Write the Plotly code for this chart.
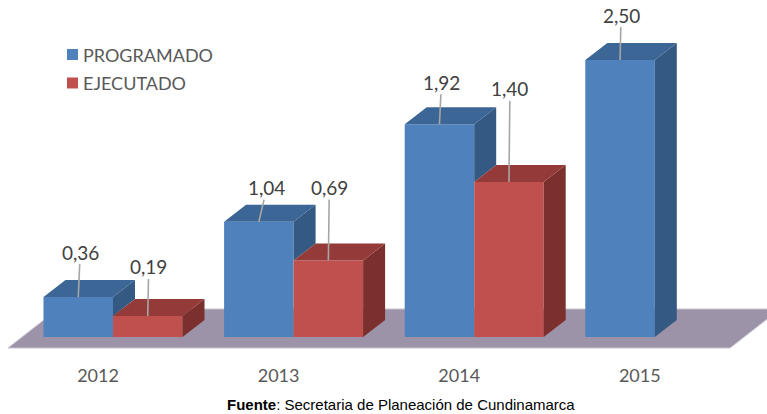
import plotly.graph_objects as go

# ---------------- data ----------------
YEARS = ["2012", "2013", "2014", "2015"]
SERIES = ["PROGRAMADO", "EJECUTADO"]
PROGRAMADO = [0.36, 1.04, 1.92, 2.50]
EJECUTADO = [0.19, 0.69, 1.40, None]

# ---------------- geometry / style ----------------
W, H = 767, 414
PX_X = 180.6      # pixels per category step
PX_Y = 110.8      # pixels per value unit
X0_PX = 113       # pixel x of category 0 (between the two bars)
Y0_PX = 337       # pixel y of value 0

XR = [-X0_PX / PX_X, (W - X0_PX) / PX_X]
YR = [-(H - Y0_PX) / PX_Y, Y0_PX / PX_Y]

BAR_W = 69.5 / PX_X
DX = 22 / PX_X     # depth offset (x)
DY = 17 / PX_Y     # depth offset (y)

COL = {
    "PROGRAMADO": dict(front="#4F81BD", top="#3C6696", side="#345A84"),
    "EJECUTADO": dict(front="#C0504D", top="#943B39", side="#7C302E"),
}
FONT_FAM = "Lato, Carlito, Calibri, sans-serif"
LABEL_FONT = dict(family=FONT_FAM, size=19, color="#404040")
AXIS_FONT = dict(family=FONT_FAM, size=18, color="#595959")
LEADER = "#A6A6A6"
# text offsets (pixels) of each value label from the top of its bar
LBL_OFF = {
    "PROGRAMADO": [(2, -45), (8, -34), (2, -42), (1, -45)],
    "EJECUTADO": [(1, -49), (1, -73), (1, -93), (0, -40)],
}


def px2paper_x(p):
    return p / W


def px2paper_y(p):
    return 1 - p / H


idx = list(range(len(YEARS)))
fig = go.Figure()

# front faces as real bars
for name, vals, off in [("PROGRAMADO", PROGRAMADO, -BAR_W), ("EJECUTADO", EJECUTADO, 0)]:
    fig.add_trace(go.Bar(
        x=idx, y=vals, width=BAR_W, offset=off, name=name,
        marker=dict(color=COL[name]["front"], line=dict(width=0)),
        hoverinfo="skip", showlegend=False,
    ))


def faces(vals, left_off, base_vals=None):
    tx, ty, sx, sy = [], [], [], []
    for i, v in enumerate(vals):
        if v is None:
            continue
        x0 = i + left_off
        x1 = x0 + BAR_W
        tx += [x0, x0 + DX, x1 + DX, x1, x0, None]
        ty += [v, v + DY, v + DY, v, v, None]
        b = 0
        if base_vals is not None and i < len(base_vals) and base_vals[i] is not None:
            b = min(base_vals[i], v)
        sx += [x1, x1, x1 + DX, x1 + DX, x1, None]
        sy += [b, v, v + DY, b + DY, b, None]
    return tx, ty, sx, sy


for name, vals, off, base in [("PROGRAMADO", PROGRAMADO, -BAR_W, EJECUTADO),
                              ("EJECUTADO", EJECUTADO, 0, None)]:
    tx, ty, sx, sy = faces(vals, off, base)
    for xs, ys, c in [(sx, sy, COL[name]["side"]), (tx, ty, COL[name]["top"])]:
        fig.add_trace(go.Scatter(
            x=xs, y=ys, mode="lines", fill="toself", fillcolor=c,
            line=dict(width=0, color=c), hoverinfo="skip", showlegend=False,
        ))

# value labels with leader lines
annotations = []
for name, vals, off in [("PROGRAMADO", PROGRAMADO, -BAR_W / 2), ("EJECUTADO", EJECUTADO, BAR_W / 2)]:
    for i, v in enumerate(vals):
        if v is None:
            continue
        ax, ay = LBL_OFF[name][i]
        annotations.append(dict(
            x=i + off, y=v, xref="x", yref="y", ax=ax, ay=ay,
            text=f"{v:.2f}".replace(".", ","), showarrow=True, arrowhead=0,
            arrowwidth=1.6, arrowcolor=LEADER, standoff=0, borderpad=0,
            font=LABEL_FONT,
        ))

# legend (manual, to match spacing)
shapes = []
for k, name in enumerate(SERIES):
    cy = 54.5 + 28.5 * k
    shapes.append(dict(type="rect", xref="paper", yref="paper",
                       x0=px2paper_x(67), x1=px2paper_x(78),
                       y0=px2paper_y(cy - 5.5), y1=px2paper_y(cy + 5.5),
                       fillcolor=COL[name]["front"], line=dict(width=0)))
    annotations.append(dict(x=px2paper_x(81), y=px2paper_y(cy), xref="paper", yref="paper",
                            xanchor="left", yanchor="middle", showarrow=False, text=name,
                            font=dict(family=FONT_FAM, size=18, color="#595959")))

# floor
fy0 = -(348 - Y0_PX) / PX_Y
fy1 = (Y0_PX - 309) / PX_Y
fxl = (8 - X0_PX) / PX_X
fxr = (730 - X0_PX) / PX_X
fdx = 50 / PX_X
shapes.append(dict(
    type="path", xref="x", yref="y", layer="below",
    path=f"M{fxl},{fy0} L{fxr},{fy0} L{fxr + fdx},{fy1} L{fxl + fdx},{fy1} Z",
    fillcolor="#9C93A8", line=dict(width=1, color="#C8C3CF"),
))

# source note
annotations.append(dict(
    x=px2paper_x(401), y=px2paper_y(404), xref="paper", yref="paper",
    xanchor="center", yanchor="middle", showarrow=False,
    text="<b>Fuente</b>: Secretaria de Planeación de Cundinamarca",
    font=dict(family="Liberation Sans Narrow, Liberation Sans, Arial, sans-serif",
              size=15, color="#000000"),
))

fig.update_layout(
    width=W, height=H, autosize=False,
    margin=dict(l=0, r=0, t=0, b=0, pad=0),
    paper_bgcolor="white", plot_bgcolor="white",
    barmode="overlay", showlegend=False,
    shapes=shapes, annotations=annotations,
    xaxis=dict(range=XR, showgrid=False, zeroline=False, showline=False,
               tickmode="array", tickvals=idx, ticktext=YEARS, ticks="",
               tickfont=AXIS_FONT, anchor="free", position=px2paper_y(363),
               ticklabelshift=-15, fixedrange=True),
    yaxis=dict(range=YR, visible=False, fixedrange=True),
)

fig.write_html(
    "out.html",
    config={"displayModeBar": False},
    post_script="document.body.style.margin='0';document.body.style.overflow='hidden';",
)
